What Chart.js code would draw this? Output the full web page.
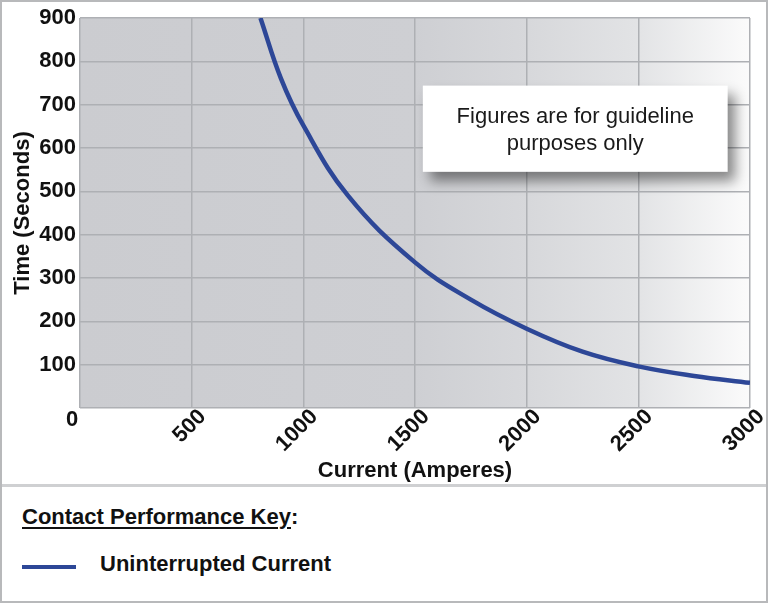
<!DOCTYPE html>
<html>
<head>
<meta charset="utf-8">
<title>Contact Performance</title>
<script src="https://cdn.jsdelivr.net/npm/chart.js@4.4.1/dist/chart.umd.min.js"></script>
<style>
  html, body { margin: 0; padding: 0; background: #fff; }
  body { font-family: 'Liberation Sans', Arial, sans-serif; color: #111; }
  .frame { position: relative; width: 768px; height: 603px; overflow: hidden; }
  .chart-box { position: absolute; left: 0; top: 0; width: 768px; height: 484px; }
  .divider { position: absolute; left: 0; top: 484px; width: 768px; height: 3px; background: #cfd0d2; }
  .edge { position: absolute; left: 0; top: 0; width: 768px; height: 603px; box-sizing: border-box;
          border: 2px solid #b8b9bb; pointer-events: none; }
  .key-title { position: absolute; left: 22px; top: 506px; font-size: 22px; line-height: 22px; font-weight: bold; }
  .key-title u { text-decoration-thickness: 2px; text-underline-offset: 3px; }
  .key-swatch { position: absolute; left: 22px; top: 565px; width: 54px; height: 4px; background: #2d4797; }
  .key-label { position: absolute; left: 100px; top: 553px; font-size: 22px; line-height: 22px; font-weight: bold; }
</style>
</head>
<body>
<div class="frame">
  <div class="chart-box"><canvas id="trip-curve"></canvas></div>
  <div class="divider"></div>

  <!-- Key -->
  <div class="key-title"><u>Contact Performance Key</u>:</div>
  <div class="key-swatch"></div>
  <div class="key-label">Uninterrupted Current</div>

  <div class="edge"></div>
</div>

<script>
// values
const currentAmps = [808, 900, 1000, 1200, 1500, 1750, 2000, 2250, 2500, 2750, 3000];
const timeSeconds = [900, 760, 652, 490, 336, 250, 183, 130, 96, 74, 58];

const xTicks = [0, 500, 1000, 1500, 2000, 2500, 3000];
const yTicks = [0, 100, 200, 300, 400, 500, 600, 700, 800, 900];

const noteLines = ['Figures are for guideline', 'purposes only'];

const FONT = "'Liberation Sans', Arial, sans-serif";
const LINE_BLUE = '#2d4797';
const GRID = '#aeb0b4';

// gray plot background that fades out towards the right
const plotShade = {
  id: 'plotShade',
  beforeDraw(chart) {
    const { ctx, chartArea: a } = chart;
    const g = ctx.createLinearGradient(a.left, 0, a.right, 0);
    g.addColorStop(0, '#cbccd0');
    g.addColorStop(0.5, '#cecfd3');
    g.addColorStop(0.67, '#d7d8db');
    g.addColorStop(0.83, '#e2e3e5');
    g.addColorStop(1, '#fbfbfb');
    ctx.save();
    ctx.fillStyle = g;
    ctx.fillRect(a.left, a.top, a.width, a.height);
    ctx.restore();
  }
};

// shared "0" at the origin + the disclaimer box
const extras = {
  id: 'extras',
  afterDraw(chart) {
    const { ctx } = chart;
    const xs = chart.scales.x, ys = chart.scales.y;
    ctx.save();

    ctx.font = 'bold 22px ' + FONT;
    ctx.fillStyle = '#111';
    ctx.textAlign = 'center';
    ctx.textBaseline = 'middle';
    ctx.fillText('0', xs.getPixelForValue(0) - 8, ys.getPixelForValue(0) + 12);

    const left = xs.getPixelForValue(1535), right = xs.getPixelForValue(2900);
    const top = ys.getPixelForValue(744), bottom = ys.getPixelForValue(545);
    ctx.shadowColor = 'rgba(0, 0, 0, 0.45)';
    ctx.shadowBlur = 12;
    ctx.shadowOffsetX = 7;
    ctx.shadowOffsetY = 9;
    ctx.fillStyle = '#fff';
    ctx.fillRect(left, top, right - left, bottom - top);
    ctx.shadowColor = 'transparent';

    ctx.font = '22px ' + FONT;
    ctx.fillStyle = '#1a1a1a';
    const cx = (left + right) / 2;
    ctx.fillText(noteLines[0], cx, top + 31);
    ctx.fillText(noteLines[1], cx, top + 58);
    ctx.restore();
  }
};

new Chart(document.getElementById('trip-curve'), {
  type: 'scatter',
  data: {
    datasets: [{
      label: 'Uninterrupted Current',
      data: currentAmps.map((a, i) => ({ x: a, y: timeSeconds[i] })),
      showLine: true,
      borderColor: LINE_BLUE,
      borderWidth: 4.5,
      pointRadius: 0,
      tension: 0.4
    }]
  },
  options: {
    responsive: true,
    maintainAspectRatio: false,
    animation: false,
    layout: { padding: { left: 8, right: 18, top: 18, bottom: 0 } },
    plugins: { legend: { display: false }, tooltip: { enabled: false } },
    scales: {
      x: {
        type: 'linear',
        min: 0,
        max: 3000,
        afterBuildTicks: s => { s.ticks = xTicks.map(v => ({ value: v })); },
        afterFit: s => { s.height = 76; },
        grid: { color: GRID, lineWidth: 1.5, drawTicks: false },
        border: { display: false },
        ticks: {
          color: '#111',
          font: { family: FONT, size: 22, weight: 'bold' },
          minRotation: 45,
          maxRotation: 45,
          padding: -4,
          labelOffset: 11,
          callback: v => (v === 0 ? '' : v)
        },
        title: {
          display: true,
          text: 'Current (Amperes)',
          color: '#111',
          font: { family: FONT, size: 22, weight: 'bold' },
          padding: { top: 0, bottom: 0 }
        }
      },
      y: {
        min: 0,
        max: 900,
        afterBuildTicks: s => { s.ticks = yTicks.map(v => ({ value: v })); },
        afterFit: s => { s.width = 72; },
        grid: { color: GRID, lineWidth: 1.5, drawTicks: false },
        border: { display: false },
        ticks: {
          color: '#111',
          font: { family: FONT, size: 22, weight: 'bold' },
          padding: 4,
          callback: v => (v === 0 ? '' : v)
        },
        title: {
          display: true,
          text: 'Time (Seconds)',
          color: '#111',
          font: { family: FONT, size: 22, weight: 'bold' },
          padding: { top: 2, bottom: 0 }
        }
      }
    }
  },
  plugins: [plotShade, extras]
});
</script>
</body>
</html>
